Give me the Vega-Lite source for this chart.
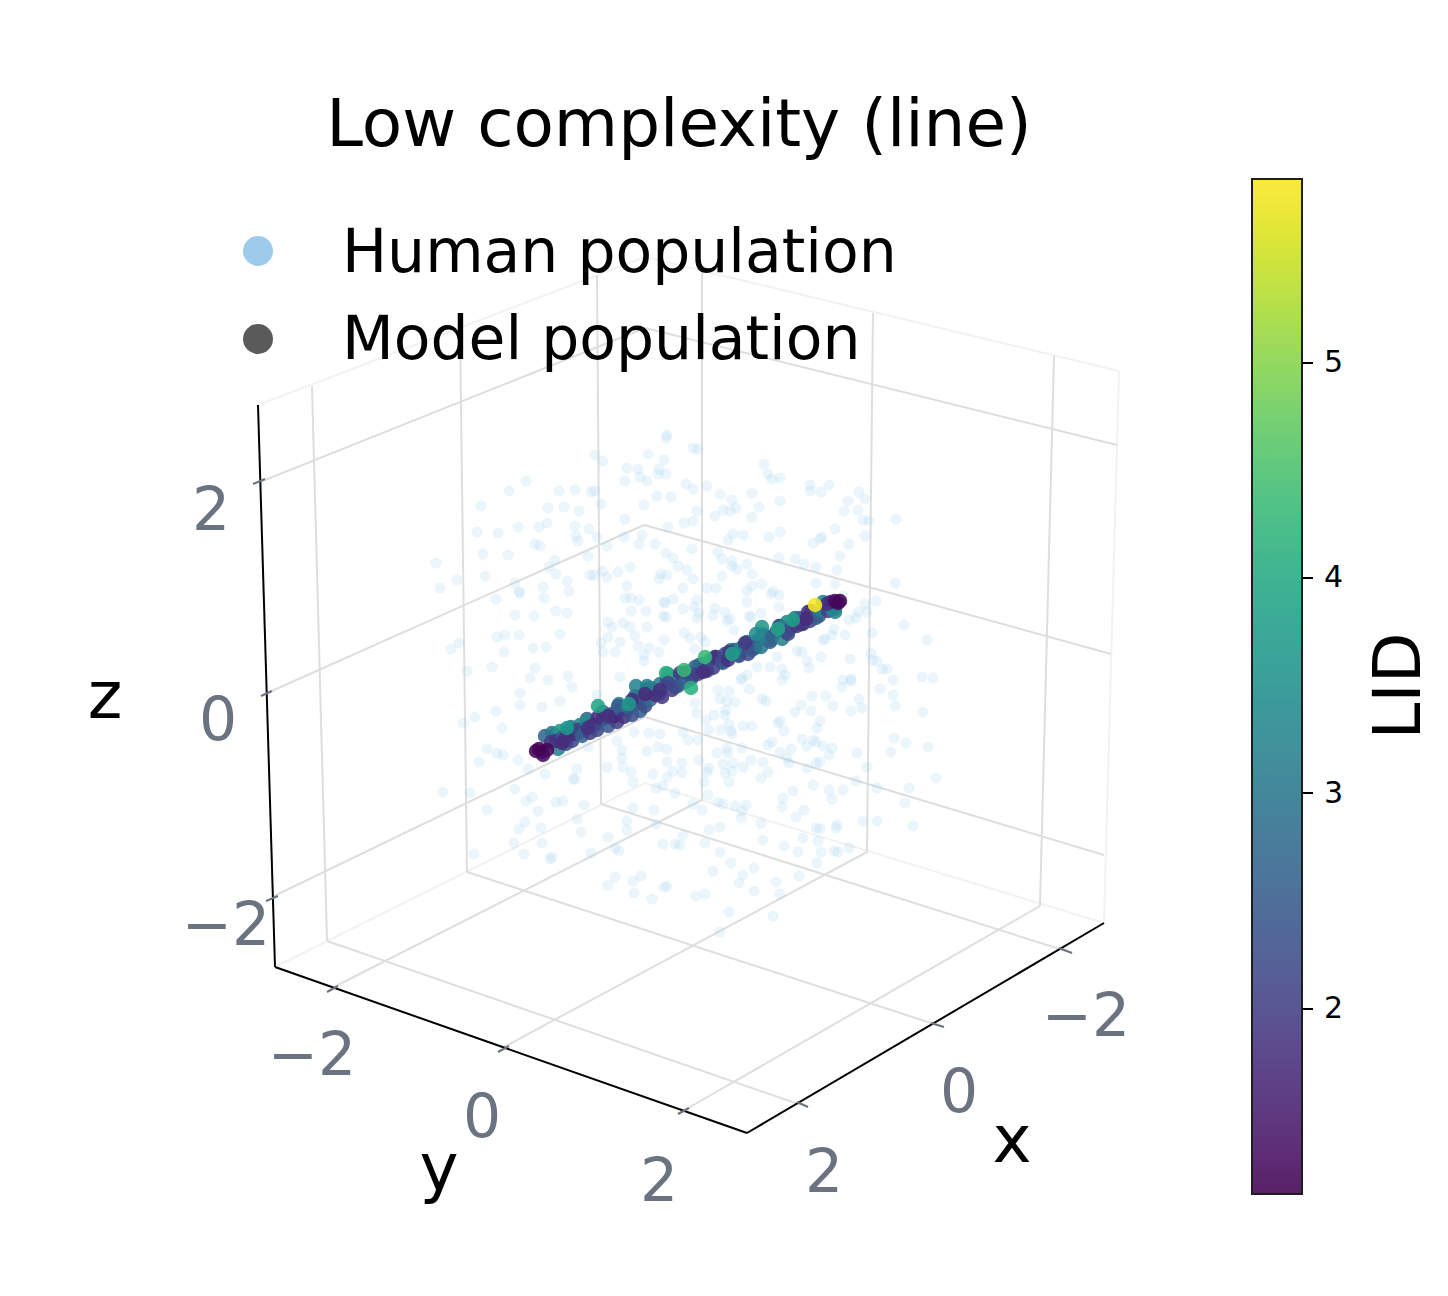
{"$schema":"https://vega.github.io/schema/vega-lite/v6.json","width":1448,"height":1296,"padding":0,"autosize":{"type":"none"},"background":"white","view":{"stroke":null},
"datasets":{
"faint":[{"x":275,"y":967,"x2":645,"y2":783},{"x":645,"y":783,"x2":1104,"y2":923},{"x":258,"y":405,"x2":645,"y2":257},{"x":645,"y":257,"x2":1119,"y2":371},{"x":1119,"y":371,"x2":1104,"y2":923}],
"grid":[{"x":260,"y":482,"x2":645,"y2":328},{"x":645,"y":328,"x2":1117,"y2":445},{"x":265,"y":694,"x2":644,"y2":525},{"x":644,"y":525,"x2":1111,"y2":654},{"x":272,"y":897,"x2":645,"y2":717},{"x":645,"y":717,"x2":1104,"y2":855},{"x":312,"y":386,"x2":327,"y2":941},{"x":460,"y":328,"x2":467,"y2":872},{"x":597,"y":275,"x2":601,"y2":804},{"x":702,"y":273,"x2":702,"y2":800},{"x":873,"y":313,"x2":867,"y2":852},{"x":1054,"y":356,"x2":1040,"y2":906},{"x":332,"y":988,"x2":702,"y2":800},{"x":502,"y":1048,"x2":867,"y2":852},{"x":683,"y":1111,"x2":1040,"y2":906},{"x":1066,"y":951,"x2":601,"y2":804},{"x":937,"y":1025,"x2":467,"y2":872},{"x":801,"y":1105,"x2":327,"y2":941}],
"spines":[{"x":258,"y":405,"x2":275,"y2":967},{"x":275,"y":967,"x2":747,"y2":1133},{"x":747,"y":1133,"x2":1104,"y2":923}],
"ticks":[{"x":253,"y":484,"x2":265,"y2":479},{"x":261,"y":696,"x2":272,"y2":691},{"x":266,"y":901,"x2":278,"y2":896},{"x":327,"y":992,"x2":338,"y2":986},{"x":498,"y":1052,"x2":509,"y2":1046},{"x":678,"y":1114,"x2":689,"y2":1108},{"x":797,"y":1102,"x2":808,"y2":1107},{"x":931,"y":1023,"x2":944,"y2":1027},{"x":1059,"y":948,"x2":1072,"y2":953}],
"cbticks":[{"x":1302,"y":1009,"x2":1313,"y2":1009},{"x":1302,"y":793,"x2":1313,"y2":793},{"x":1302,"y":578,"x2":1313,"y2":578},{"x":1302,"y":363,"x2":1313,"y2":363}],
"human":[{"x":667,"y":435},{"x":666,"y":438},{"x":595,"y":455},{"x":603,"y":461},{"x":648,"y":454},{"x":664,"y":460},{"x":627,"y":468},{"x":638,"y":469},{"x":659,"y":469},{"x":640,"y":477},{"x":658,"y":474},{"x":666,"y":474},{"x":647,"y":481},{"x":625,"y":481},{"x":526,"y":481},{"x":509,"y":491},{"x":559,"y":491},{"x":575,"y":490},{"x":591,"y":492},{"x":595,"y":491},{"x":657,"y":496},{"x":671,"y":497},{"x":481,"y":506},{"x":548,"y":508},{"x":564,"y":507},{"x":579,"y":511},{"x":601,"y":504},{"x":644,"y":505},{"x":625,"y":519},{"x":477,"y":532},{"x":498,"y":533},{"x":518,"y":527},{"x":539,"y":527},{"x":547,"y":523},{"x":575,"y":526},{"x":589,"y":529},{"x":668,"y":527},{"x":576,"y":536},{"x":578,"y":541},{"x":597,"y":537},{"x":642,"y":535},{"x":624,"y":537},{"x":639,"y":544},{"x":655,"y":544},{"x":535,"y":544},{"x":540,"y":546},{"x":607,"y":546},{"x":483,"y":554},{"x":508,"y":555},{"x":588,"y":556},{"x":666,"y":553},{"x":673,"y":558},{"x":436,"y":563},{"x":555,"y":560},{"x":549,"y":567},{"x":556,"y":574},{"x":602,"y":571},{"x":630,"y":567},{"x":618,"y":572},{"x":678,"y":566},{"x":485,"y":576},{"x":590,"y":575},{"x":594,"y":575},{"x":607,"y":577},{"x":661,"y":574},{"x":667,"y":575},{"x":659,"y":579},{"x":457,"y":580},{"x":440,"y":588},{"x":567,"y":581},{"x":515,"y":583},{"x":627,"y":586},{"x":543,"y":587},{"x":569,"y":591},{"x":519,"y":592},{"x":520,"y":593},{"x":496,"y":599},{"x":544,"y":598},{"x":625,"y":598},{"x":631,"y":598},{"x":639,"y":600},{"x":664,"y":602},{"x":673,"y":599},{"x":665,"y":603},{"x":631,"y":611},{"x":646,"y":611},{"x":515,"y":615},{"x":534,"y":616},{"x":556,"y":611},{"x":567,"y":613},{"x":663,"y":616},{"x":666,"y":617},{"x":608,"y":622},{"x":612,"y":627},{"x":623,"y":623},{"x":630,"y":627},{"x":647,"y":627},{"x":560,"y":634},{"x":519,"y":635},{"x":505,"y":635},{"x":497,"y":637},{"x":635,"y":636},{"x":608,"y":637},{"x":620,"y":642},{"x":664,"y":640},{"x":459,"y":643},{"x":451,"y":649},{"x":601,"y":643},{"x":638,"y":646},{"x":649,"y":648},{"x":533,"y":648},{"x":546,"y":647},{"x":504,"y":652},{"x":603,"y":652},{"x":615,"y":652},{"x":659,"y":652},{"x":644,"y":655},{"x":644,"y":661},{"x":492,"y":667},{"x":535,"y":668},{"x":467,"y":671},{"x":568,"y":676},{"x":620,"y":677},{"x":530,"y":678},{"x":548,"y":680},
{"x":693,"y":448},{"x":698,"y":449},{"x":764,"y":464},{"x":768,"y":474},{"x":772,"y":479},{"x":780,"y":478},{"x":810,"y":485},{"x":829,"y":485},{"x":810,"y":491},{"x":821,"y":492},{"x":686,"y":484},{"x":693,"y":489},{"x":707,"y":486},{"x":720,"y":494},{"x":752,"y":493},{"x":859,"y":492},{"x":848,"y":501},{"x":865,"y":499},{"x":732,"y":500},{"x":780,"y":501},{"x":759,"y":507},{"x":736,"y":508},{"x":723,"y":510},{"x":697,"y":511},{"x":844,"y":511},{"x":858,"y":510},{"x":730,"y":511},{"x":715,"y":516},{"x":752,"y":517},{"x":693,"y":521},{"x":684,"y":523},{"x":863,"y":520},{"x":869,"y":521},{"x":896,"y":519},{"x":835,"y":529},{"x":780,"y":532},{"x":743,"y":535},{"x":733,"y":534},{"x":769,"y":537},{"x":728,"y":540},{"x":865,"y":536},{"x":822,"y":537},{"x":820,"y":539},{"x":813,"y":543},{"x":849,"y":544},{"x":692,"y":549},{"x":718,"y":552},{"x":840,"y":556},{"x":779,"y":558},{"x":795,"y":559},{"x":804,"y":564},{"x":816,"y":567},{"x":722,"y":559},{"x":732,"y":561},{"x":732,"y":566},{"x":737,"y":569},{"x":747,"y":564},{"x":752,"y":574},{"x":837,"y":570},{"x":722,"y":576},{"x":687,"y":570},{"x":693,"y":579},{"x":816,"y":583},{"x":835,"y":584},{"x":895,"y":583},{"x":752,"y":586},{"x":762,"y":584},{"x":683,"y":588},{"x":707,"y":588},{"x":716,"y":588},{"x":747,"y":591},{"x":773,"y":591},{"x":771,"y":594},{"x":779,"y":595},{"x":843,"y":596},{"x":747,"y":602},{"x":876,"y":601},{"x":865,"y":604},{"x":697,"y":600},{"x":779,"y":607},{"x":715,"y":608},{"x":694,"y":607},{"x":683,"y":609},{"x":761,"y":613},{"x":725,"y":612},{"x":699,"y":613},{"x":713,"y":615},{"x":697,"y":618},{"x":749,"y":616},{"x":751,"y":617},{"x":730,"y":619},{"x":858,"y":612},{"x":867,"y":612},{"x":849,"y":620},{"x":856,"y":618},{"x":727,"y":621},{"x":904,"y":625},{"x":834,"y":629},{"x":734,"y":630},{"x":832,"y":635},{"x":845,"y":635},{"x":872,"y":633},{"x":684,"y":633},{"x":690,"y":638},{"x":701,"y":637},{"x":705,"y":642},{"x":823,"y":640},{"x":825,"y":639},{"x":927,"y":640},{"x":695,"y":649},{"x":797,"y":651},{"x":802,"y":652},{"x":871,"y":653},{"x":777,"y":657},{"x":821,"y":657},{"x":850,"y":659},{"x":807,"y":661},{"x":872,"y":660},{"x":877,"y":661},{"x":882,"y":669},{"x":887,"y":669},{"x":757,"y":667},{"x":770,"y":667},{"x":809,"y":668},{"x":782,"y":669},{"x":785,"y":675},{"x":922,"y":677},{"x":933,"y":678},{"x":843,"y":680},{"x":851,"y":679},{"x":893,"y":680},{"x":747,"y":675},{"x":742,"y":678},
{"x":520,"y":693},{"x":496,"y":711},{"x":475,"y":717},{"x":463,"y":723},{"x":520,"y":705},{"x":542,"y":707},{"x":560,"y":701},{"x":572,"y":687},{"x":597,"y":695},{"x":502,"y":728},{"x":634,"y":732},{"x":649,"y":733},{"x":660,"y":734},{"x":617,"y":741},{"x":588,"y":747},{"x":622,"y":750},{"x":487,"y":749},{"x":497,"y":753},{"x":503,"y":755},{"x":647,"y":751},{"x":658,"y":747},{"x":667,"y":749},{"x":479,"y":762},{"x":518,"y":760},{"x":607,"y":767},{"x":622,"y":758},{"x":623,"y":767},{"x":631,"y":772},{"x":577,"y":769},{"x":528,"y":769},{"x":545,"y":774},{"x":573,"y":779},{"x":575,"y":779},{"x":633,"y":782},{"x":653,"y":774},{"x":667,"y":762},{"x":673,"y":771},{"x":667,"y":777},{"x":656,"y":788},{"x":663,"y":786},{"x":675,"y":793},{"x":515,"y":789},{"x":443,"y":792},{"x":470,"y":793},{"x":532,"y":797},{"x":526,"y":801},{"x":556,"y":802},{"x":563,"y":801},{"x":584,"y":805},{"x":487,"y":810},{"x":538,"y":811},{"x":633,"y":808},{"x":654,"y":810},{"x":577,"y":819},{"x":627,"y":821},{"x":525,"y":822},{"x":519,"y":829},{"x":541,"y":828},{"x":627,"y":830},{"x":656,"y":824},{"x":581,"y":832},{"x":608,"y":837},{"x":542,"y":843},{"x":514,"y":843},{"x":663,"y":844},{"x":675,"y":844},{"x":615,"y":848},{"x":619,"y":851},{"x":474,"y":854},{"x":524,"y":854},{"x":591,"y":853},{"x":552,"y":857},{"x":550,"y":859},{"x":615,"y":877},{"x":641,"y":876},{"x":608,"y":885},{"x":633,"y":881},{"x":664,"y":887},{"x":667,"y":886},{"x":634,"y":893},{"x":652,"y":899},
{"x":718,"y":690},{"x":729,"y":691},{"x":741,"y":680},{"x":749,"y":689},{"x":782,"y":680},{"x":812,"y":696},{"x":826,"y":696},{"x":842,"y":687},{"x":851,"y":681},{"x":880,"y":689},{"x":893,"y":695},{"x":895,"y":706},{"x":923,"y":712},{"x":720,"y":699},{"x":727,"y":701},{"x":735,"y":702},{"x":762,"y":699},{"x":766,"y":701},{"x":801,"y":705},{"x":795,"y":712},{"x":811,"y":711},{"x":833,"y":706},{"x":851,"y":711},{"x":859,"y":699},{"x":862,"y":708},{"x":695,"y":703},{"x":726,"y":710},{"x":697,"y":713},{"x":725,"y":715},{"x":714,"y":715},{"x":706,"y":720},{"x":729,"y":724},{"x":780,"y":721},{"x":778,"y":723},{"x":820,"y":721},{"x":743,"y":726},{"x":752,"y":726},{"x":817,"y":728},{"x":784,"y":731},{"x":709,"y":730},{"x":721,"y":730},{"x":731,"y":731},{"x":732,"y":734},{"x":683,"y":732},{"x":688,"y":740},{"x":698,"y":740},{"x":802,"y":739},{"x":894,"y":738},{"x":906,"y":743},{"x":928,"y":747},{"x":772,"y":742},{"x":768,"y":745},{"x":813,"y":740},{"x":807,"y":746},{"x":816,"y":742},{"x":823,"y":746},{"x":832,"y":748},{"x":742,"y":748},{"x":727,"y":748},{"x":717,"y":753},{"x":728,"y":753},{"x":780,"y":752},{"x":791,"y":749},{"x":829,"y":755},{"x":857,"y":753},{"x":891,"y":752},{"x":699,"y":760},{"x":751,"y":760},{"x":763,"y":762},{"x":787,"y":758},{"x":820,"y":762},{"x":789,"y":763},{"x":816,"y":763},{"x":723,"y":764},{"x":733,"y":763},{"x":709,"y":768},{"x":682,"y":763},{"x":743,"y":767},{"x":807,"y":768},{"x":867,"y":767},{"x":707,"y":772},{"x":725,"y":773},{"x":732,"y":771},{"x":768,"y":772},{"x":682,"y":773},{"x":761,"y":778},{"x":729,"y":782},{"x":704,"y":782},{"x":936,"y":778},{"x":856,"y":781},{"x":813,"y":785},{"x":877,"y":788},{"x":909,"y":788},{"x":793,"y":791},{"x":829,"y":790},{"x":843,"y":790},{"x":708,"y":795},{"x":783,"y":798},{"x":832,"y":799},{"x":905,"y":803},{"x":718,"y":802},{"x":723,"y":804},{"x":746,"y":805},{"x":735,"y":806},{"x":693,"y":804},{"x":702,"y":810},{"x":782,"y":807},{"x":804,"y":810},{"x":742,"y":811},{"x":796,"y":817},{"x":741,"y":818},{"x":761,"y":823},{"x":863,"y":821},{"x":877,"y":821},{"x":913,"y":826},{"x":837,"y":825},{"x":836,"y":828},{"x":816,"y":828},{"x":820,"y":829},{"x":720,"y":827},{"x":709,"y":830},{"x":683,"y":835},{"x":803,"y":838},{"x":818,"y":841},{"x":763,"y":840},{"x":784,"y":846},{"x":705,"y":843},{"x":680,"y":845},{"x":849,"y":848},{"x":834,"y":851},{"x":838,"y":852},{"x":798,"y":852},{"x":821,"y":852},{"x":720,"y":852},{"x":731,"y":863},{"x":817,"y":863},{"x":754,"y":868},{"x":713,"y":871},{"x":743,"y":875},{"x":799,"y":876},{"x":739,"y":883},{"x":776,"y":882},{"x":754,"y":891},{"x":780,"y":894},{"x":705,"y":894},{"x":696,"y":896},{"x":729,"y":912},{"x":773,"y":916},{"x":720,"y":932}],
"model":[{"x":555,"y":735,"l":2.4},{"x":563,"y":741,"l":2.9},{"x":571,"y":727,"l":3.0},{"x":579,"y":733,"l":2.3},{"x":587,"y":719,"l":2.6},{"x":595,"y":725,"l":2.1},{"x":603,"y":712,"l":2.9},{"x":611,"y":718,"l":2.7},{"x":619,"y":704,"l":3.1},{"x":627,"y":710,"l":2.2},{"x":635,"y":696,"l":2.8},{"x":643,"y":702,"l":2.5},{"x":651,"y":688,"l":3.0},{"x":659,"y":694,"l":2.6},{"x":667,"y":681,"l":2.4},{"x":675,"y":687,"l":2.9},{"x":683,"y":673,"l":2.6},{"x":691,"y":679,"l":3.0},{"x":699,"y":665,"l":3.1},{"x":707,"y":671,"l":2.4},{"x":715,"y":657,"l":2.5},{"x":723,"y":663,"l":2.9},{"x":731,"y":650,"l":3.2},{"x":739,"y":655,"l":2.3},{"x":747,"y":642,"l":2.7},{"x":755,"y":648,"l":2.6},{"x":763,"y":634,"l":3.1},{"x":771,"y":640,"l":3.3},{"x":779,"y":626,"l":2.4},{"x":787,"y":632,"l":2.7},{"x":795,"y":618,"l":2.9},{"x":803,"y":624,"l":2.3},{"x":811,"y":611,"l":2.2},{"x":819,"y":616,"l":2.6},{"x":827,"y":603,"l":3.1},{"x":835,"y":609,"l":3.3},
{"x":545,"y":736,"l":2.7},{"x":552,"y":733,"l":3.0},{"x":551,"y":742,"l":2.0},{"x":560,"y":731,"l":3.7},{"x":558,"y":749,"l":3.2},{"x":556,"y":741,"l":1.8},{"x":563,"y":737,"l":2.4},{"x":570,"y":729,"l":3.3},{"x":566,"y":744,"l":2.3},{"x":572,"y":741,"l":2.1},{"x":574,"y":734,"l":1.7},{"x":580,"y":725,"l":3.2},{"x":578,"y":730,"l":2.0},{"x":584,"y":728,"l":2.2},{"x":582,"y":736,"l":2.6},{"x":587,"y":722,"l":3.4},{"x":590,"y":733,"l":2.0},{"x":593,"y":725,"l":1.7},{"x":597,"y":730,"l":2.2},{"x":598,"y":717,"l":1.7},{"x":603,"y":719,"l":1.8},{"x":608,"y":726,"l":2.4},{"x":612,"y":714,"l":2.3},{"x":617,"y":722,"l":2.0},{"x":615,"y":716,"l":1.6},{"x":621,"y":710,"l":2.6},{"x":624,"y":717,"l":1.8},{"x":618,"y":706,"l":2.5},{"x":628,"y":707,"l":3.1},{"x":632,"y":715,"l":2.3},{"x":636,"y":703,"l":1.9},{"x":640,"y":711,"l":2.5},{"x":636,"y":686,"l":3.2},{"x":637,"y":697,"l":3.0},{"x":645,"y":706,"l":2.2},{"x":647,"y":689,"l":2.9},{"x":650,"y":700,"l":2.7},{"x":655,"y":695,"l":1.7},{"x":647,"y":686,"l":3.2},{"x":660,"y":684,"l":3.1},{"x":662,"y":697,"l":1.9},{"x":667,"y":680,"l":2.2},{"x":672,"y":690,"l":2.0},{"x":675,"y":678,"l":3.0},{"x":668,"y":674,"l":3.4},{"x":678,"y":686,"l":2.3},{"x":680,"y":673,"l":1.9},{"x":685,"y":682,"l":2.5},{"x":688,"y":672,"l":1.7},{"x":692,"y":677,"l":2.2},{"x":695,"y":667,"l":2.6},{"x":698,"y":674,"l":2.0},{"x":702,"y":664,"l":2.7},{"x":706,"y":670,"l":1.8},{"x":710,"y":660,"l":3.2},{"x":713,"y":668,"l":2.0},{"x":716,"y":657,"l":1.7},{"x":722,"y":662,"l":2.3},{"x":725,"y":654,"l":2.2},{"x":728,"y":660,"l":1.8},{"x":735,"y":650,"l":2.5},{"x":739,"y":656,"l":2.4},{"x":741,"y":648,"l":3.4},{"x":748,"y":654,"l":2.2},{"x":752,"y":643,"l":2.8},{"x":752,"y":650,"l":2.4},{"x":757,"y":641,"l":2.4},{"x":762,"y":627,"l":3.6},{"x":761,"y":647,"l":3.0},{"x":770,"y":642,"l":2.6},{"x":764,"y":636,"l":3.2},{"x":756,"y":634,"l":3.4},{"x":776,"y":632,"l":2.3},{"x":772,"y":637,"l":2.6},{"x":782,"y":639,"l":3.2},{"x":780,"y":626,"l":2.2},{"x":787,"y":622,"l":3.3},{"x":791,"y":628,"l":2.3},{"x":788,"y":634,"l":2.1},{"x":797,"y":626,"l":1.9},{"x":800,"y":618,"l":2.6},{"x":802,"y":624,"l":1.9},{"x":808,"y":612,"l":1.8},{"x":810,"y":621,"l":2.1},{"x":816,"y":618,"l":2.5},{"x":820,"y":610,"l":3.2},{"x":823,"y":602,"l":3.3},{"x":828,"y":611,"l":2.0},{"x":832,"y":608,"l":3.2},{"x":835,"y":612,"l":3.3},{"x":827,"y":604,"l":1.8},{"x":831,"y":602,"l":1.7},{"x":835,"y":601,"l":1.3},{"x":840,"y":601,"l":1.1},{"x":838,"y":603,"l":1.2},{"x":632,"y":700,"l":1.8},{"x":645,"y":694,"l":1.7},{"x":608,"y":716,"l":1.8},{"x":588,"y":728,"l":1.8},{"x":566,"y":738,"l":1.8},{"x":703,"y":672,"l":1.8},{"x":729,"y":652,"l":1.9},{"x":745,"y":643,"l":1.9},{"x":806,"y":619,"l":1.7},{"x":562,"y":743,"l":1.7},{"x":598,"y":706,"l":3.9},{"x":567,"y":728,"l":3.6},{"x":629,"y":704,"l":3.7},{"x":666,"y":673,"l":4.1},{"x":691,"y":688,"l":4.1},{"x":684,"y":670,"l":4.3},{"x":705,"y":657,"l":4.3},{"x":732,"y":654,"l":3.8},{"x":778,"y":629,"l":3.9},{"x":793,"y":620,"l":3.8},{"x":668,"y":683,"l":2.1},{"x":660,"y":690,"l":1.8},{"x":536,"y":751,"l":1.2},{"x":542,"y":752,"l":1.25},{"x":547,"y":750,"l":1.2},{"x":543,"y":755,"l":1.3},{"x":539,"y":749,"l":1.15},{"x":815,"y":605,"l":5.85}],
"title":[{"x":679,"y":146,"t":"Low complexity (line)"}],
"legendtext":[{"x":342,"y":272,"t":"Human population"},{"x":342,"y":359,"t":"Model population"}],
"lh":[{"x":258,"y":251}],"lm":[{"x":258,"y":339}],
"ticklabels":[{"x":211,"y":530,"t":"2"},{"x":218,"y":740,"t":"0"},{"x":226,"y":945,"t":"−2"},{"x":312,"y":1075,"t":"−2"},{"x":482,"y":1137,"t":"0"},{"x":659,"y":1201,"t":"2"},{"x":1086,"y":1036,"t":"−2"},{"x":959,"y":1112,"t":"0"},{"x":824,"y":1192,"t":"2"}],
"axislabels":[{"x":1012,"y":1162,"t":"x"},{"x":439,"y":1190,"t":"y"},{"x":105,"y":718,"t":"z"}],
"lid":[{"x":1420,"y":686,"t":"LID"}]
},
"encoding":{
"x":{"field":"x","type":"quantitative","scale":{"domain":[0,1448],"nice":false,"zero":false},"axis":null},
"y":{"field":"y","type":"quantitative","scale":{"domain":[1296,0],"nice":false,"zero":false},"axis":null}},
"layer":[
{"data":{"name":"faint"},"mark":{"type":"rule","color":"#f2f2f2","strokeWidth":2},"encoding":{"x2":{"field":"x2"},"y2":{"field":"y2"}}},
{"data":{"name":"grid"},"mark":{"type":"rule","color":"#dedede","strokeWidth":2},"encoding":{"x2":{"field":"x2"},"y2":{"field":"y2"}}},
{"data":{"name":"human"},"mark":{"type":"circle","color":"#99ccee","opacity":0.2,"size":121,"stroke":null}},
{"data":{"name":"model"},"mark":{"type":"circle","opacity":0.88,"size":210,"stroke":null},"encoding":{"color":{"field":"l","type":"quantitative","scale":{"scheme":"viridis","domain":[1.14,5.855],"nice":false,"zero":false},"legend":{"title":null,"orient":"none","legendX":1252,"legendY":179,"direction":"vertical","gradientLength":1015,"gradientThickness":50,"gradientStrokeColor":"black","gradientStrokeWidth":2,"values":[2,3,4,5],"format":"d","labelFontSize":30,"labelFont":"DejaVu Sans","labelColor":"black","labelOffset":22,"labelOverlap":false,"padding":0}}}},
{"data":{"name":"spines"},"mark":{"type":"rule","color":"black","strokeWidth":2},"encoding":{"x2":{"field":"x2"},"y2":{"field":"y2"}}},
{"data":{"name":"ticks"},"mark":{"type":"rule","color":"#6b7280","strokeWidth":2},"encoding":{"x2":{"field":"x2"},"y2":{"field":"y2"}}},
{"data":{"name":"cbticks"},"mark":{"type":"rule","color":"black","strokeWidth":2},"encoding":{"x2":{"field":"x2"},"y2":{"field":"y2"}}},
{"data":{"name":"lh"},"mark":{"type":"circle","color":"#9ccbec","opacity":1,"size":900}},
{"data":{"name":"lm"},"mark":{"type":"circle","color":"#5a5a5a","opacity":1,"size":900}},
{"data":{"name":"title"},"mark":{"type":"text","font":"DejaVu Sans","fontSize":66,"align":"center","baseline":"alphabetic","color":"black"},"encoding":{"text":{"field":"t"}}},
{"data":{"name":"legendtext"},"mark":{"type":"text","font":"DejaVu Sans","fontSize":60,"align":"left","baseline":"alphabetic","color":"black"},"encoding":{"text":{"field":"t"}}},
{"data":{"name":"ticklabels"},"mark":{"type":"text","font":"DejaVu Sans","fontSize":60,"align":"center","baseline":"alphabetic","color":"#6b7280"},"encoding":{"text":{"field":"t"}}},
{"data":{"name":"axislabels"},"mark":{"type":"text","font":"DejaVu Sans","fontSize":66,"align":"center","baseline":"alphabetic","color":"black"},"encoding":{"text":{"field":"t"}}},
{"data":{"name":"lid"},"mark":{"type":"text","font":"DejaVu Sans","fontSize":66,"align":"center","baseline":"alphabetic","angle":270,"color":"black"},"encoding":{"text":{"field":"t"}}}
]}
